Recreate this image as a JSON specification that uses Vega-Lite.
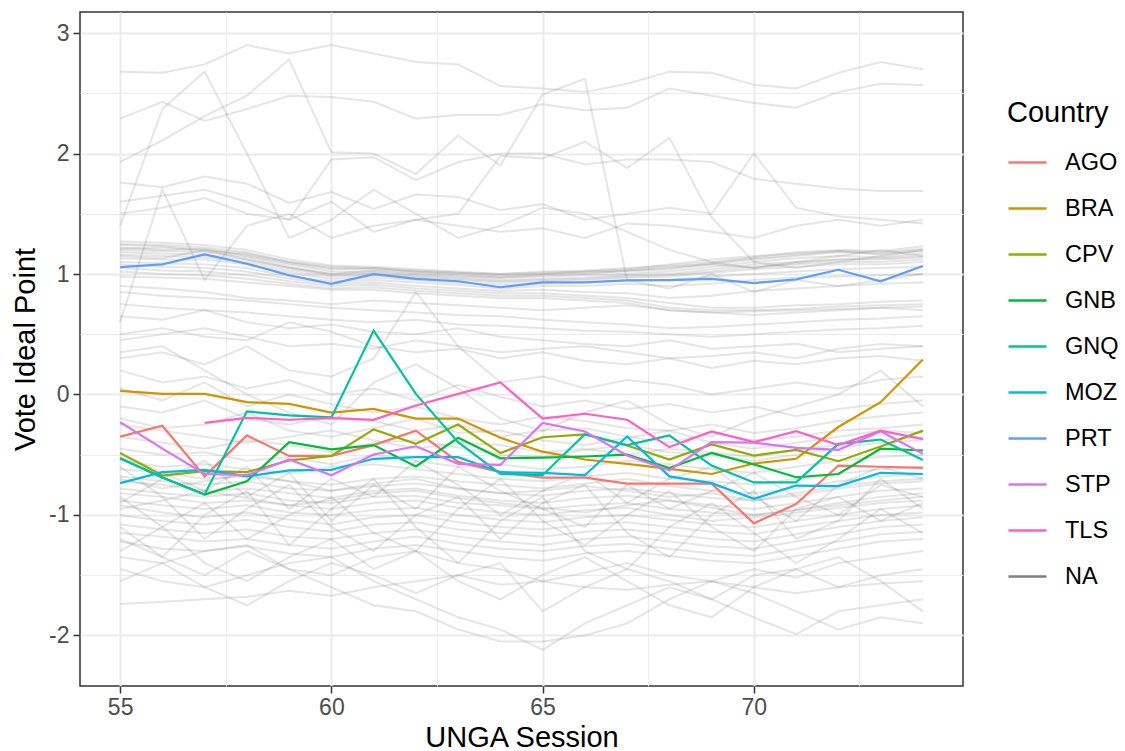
{
"$schema": "https://vega.github.io/schema/vega-lite/v6.json",
"width": 883, "height": 674,
"autosize": {"type": "none"},
"padding": {"left": 80, "top": 12, "right": 162, "bottom": 65},
"background": "white",
"config": {"font": "Liberation Sans", "view": {"stroke": "#333333", "strokeWidth": 1.5}},
"datasets": {
"bg": [
{"c":"H1","s":55,"v":2.68},{"c":"H1","s":56,"v":2.67},{"c":"H1","s":57,"v":2.74},{"c":"H1","s":58,"v":2.90},{"c":"H1","s":59,"v":2.83},{"c":"H1","s":60,"v":2.90},{"c":"H1","s":61,"v":2.83},{"c":"H1","s":62,"v":2.76},{"c":"H1","s":63,"v":2.74},{"c":"H1","s":64,"v":2.56},{"c":"H1","s":65,"v":2.54},{"c":"H1","s":66,"v":2.51},{"c":"H1","s":67,"v":2.58},{"c":"H1","s":68,"v":2.68},{"c":"H1","s":69,"v":2.67},{"c":"H1","s":70,"v":2.57},{"c":"H1","s":71,"v":2.54},{"c":"H1","s":72,"v":2.67},{"c":"H1","s":73,"v":2.76},{"c":"H1","s":74,"v":2.70},
{"c":"H2","s":55,"v":2.29},{"c":"H2","s":56,"v":2.43},{"c":"H2","s":57,"v":2.27},{"c":"H2","s":58,"v":2.37},{"c":"H2","s":59,"v":2.48},{"c":"H2","s":60,"v":2.47},{"c":"H2","s":61,"v":2.43},{"c":"H2","s":62,"v":2.29},{"c":"H2","s":63,"v":2.32},{"c":"H2","s":64,"v":2.32},{"c":"H2","s":65,"v":2.41},{"c":"H2","s":66,"v":2.36},{"c":"H2","s":67,"v":2.38},{"c":"H2","s":68,"v":2.54},{"c":"H2","s":69,"v":2.48},{"c":"H2","s":70,"v":2.42},{"c":"H2","s":71,"v":2.38},{"c":"H2","s":72,"v":2.51},{"c":"H2","s":73,"v":2.58},{"c":"H2","s":74,"v":2.57},
{"c":"H3","s":55,"v":1.93},{"c":"H3","s":56,"v":2.11},{"c":"H3","s":57,"v":2.31},{"c":"H3","s":58,"v":2.48},{"c":"H3","s":59,"v":2.78},{"c":"H3","s":60,"v":2.01},{"c":"H3","s":61,"v":2.00},{"c":"H3","s":62,"v":1.83},{"c":"H3","s":63,"v":2.15},{"c":"H3","s":64,"v":1.90},{"c":"H3","s":65,"v":2.49},{"c":"H3","s":66,"v":2.62},{"c":"H3","s":67,"v":0.95},{"c":"H3","s":68,"v":0.88},{"c":"H3","s":69,"v":1.00},{"c":"H3","s":70,"v":0.85},{"c":"H3","s":71,"v":0.95},{"c":"H3","s":72,"v":0.90},{"c":"H3","s":73,"v":0.95},{"c":"H3","s":74,"v":1.00},
{"c":"H4","s":55,"v":1.40},{"c":"H4","s":56,"v":2.37},{"c":"H4","s":57,"v":2.68},{"c":"H4","s":58,"v":2.00},{"c":"H4","s":59,"v":1.30},{"c":"H4","s":60,"v":1.45},{"c":"H4","s":61,"v":1.70},{"c":"H4","s":62,"v":1.50},{"c":"H4","s":63,"v":1.30},{"c":"H4","s":64,"v":1.40},{"c":"H4","s":65,"v":1.55},{"c":"H4","s":66,"v":1.50},{"c":"H4","s":67,"v":1.35},{"c":"H4","s":68,"v":1.20},{"c":"H4","s":69,"v":1.10},{"c":"H4","s":70,"v":1.05},{"c":"H4","s":71,"v":1.10},{"c":"H4","s":72,"v":1.15},{"c":"H4","s":73,"v":1.20},{"c":"H4","s":74,"v":1.15},
{"c":"H5","s":55,"v":1.60},{"c":"H5","s":56,"v":1.65},{"c":"H5","s":57,"v":1.70},{"c":"H5","s":58,"v":1.60},{"c":"H5","s":59,"v":1.45},{"c":"H5","s":60,"v":1.95},{"c":"H5","s":61,"v":1.97},{"c":"H5","s":62,"v":1.78},{"c":"H5","s":63,"v":1.93},{"c":"H5","s":64,"v":2.00},{"c":"H5","s":65,"v":2.00},{"c":"H5","s":66,"v":1.91},{"c":"H5","s":67,"v":1.95},{"c":"H5","s":68,"v":1.95},{"c":"H5","s":69,"v":1.93},{"c":"H5","s":70,"v":1.79},{"c":"H5","s":71,"v":1.75},{"c":"H5","s":72,"v":1.71},{"c":"H5","s":73,"v":1.69},{"c":"H5","s":74,"v":1.69},
{"c":"H6","s":55,"v":1.76},{"c":"H6","s":56,"v":1.72},{"c":"H6","s":57,"v":1.81},{"c":"H6","s":58,"v":1.75},{"c":"H6","s":59,"v":1.59},{"c":"H6","s":60,"v":1.68},{"c":"H6","s":61,"v":1.54},{"c":"H6","s":62,"v":1.66},{"c":"H6","s":63,"v":1.64},{"c":"H6","s":64,"v":1.53},{"c":"H6","s":65,"v":1.58},{"c":"H6","s":66,"v":1.45},{"c":"H6","s":67,"v":1.50},{"c":"H6","s":68,"v":1.55},{"c":"H6","s":69,"v":1.50},{"c":"H6","s":70,"v":2.00},{"c":"H6","s":71,"v":1.55},{"c":"H6","s":72,"v":1.48},{"c":"H6","s":73,"v":1.45},{"c":"H6","s":74,"v":1.42},
{"c":"H7","s":55,"v":1.50},{"c":"H7","s":56,"v":1.55},{"c":"H7","s":57,"v":1.63},{"c":"H7","s":58,"v":1.50},{"c":"H7","s":59,"v":1.45},{"c":"H7","s":60,"v":1.60},{"c":"H7","s":61,"v":1.35},{"c":"H7","s":62,"v":1.45},{"c":"H7","s":63,"v":1.50},{"c":"H7","s":64,"v":1.98},{"c":"H7","s":65,"v":1.96},{"c":"H7","s":66,"v":2.10},{"c":"H7","s":67,"v":1.88},{"c":"H7","s":68,"v":2.13},{"c":"H7","s":69,"v":1.47},{"c":"H7","s":70,"v":1.10},{"c":"H7","s":71,"v":1.05},{"c":"H7","s":72,"v":1.10},{"c":"H7","s":73,"v":1.15},{"c":"H7","s":74,"v":1.20},
{"c":"H8","s":55,"v":0.60},{"c":"H8","s":56,"v":1.70},{"c":"H8","s":57,"v":0.95},{"c":"H8","s":58,"v":1.40},{"c":"H8","s":59,"v":1.50},{"c":"H8","s":60,"v":1.30},{"c":"H8","s":61,"v":1.40},{"c":"H8","s":62,"v":1.45},{"c":"H8","s":63,"v":1.40},{"c":"H8","s":64,"v":1.35},{"c":"H8","s":65,"v":1.38},{"c":"H8","s":66,"v":1.30},{"c":"H8","s":67,"v":1.42},{"c":"H8","s":68,"v":1.40},{"c":"H8","s":69,"v":1.35},{"c":"H8","s":70,"v":1.30},{"c":"H8","s":71,"v":1.40},{"c":"H8","s":72,"v":1.45},{"c":"H8","s":73,"v":1.40},{"c":"H8","s":74,"v":1.45},
{"c":"W1","s":55,"v":1.25},{"c":"W1","s":56,"v":1.24},{"c":"W1","s":57,"v":1.22},{"c":"W1","s":58,"v":1.18},{"c":"W1","s":59,"v":1.10},{"c":"W1","s":60,"v":1.05},{"c":"W1","s":61,"v":1.04},{"c":"W1","s":62,"v":1.02},{"c":"W1","s":63,"v":1.00},{"c":"W1","s":64,"v":0.98},{"c":"W1","s":65,"v":1.00},{"c":"W1","s":66,"v":1.01},{"c":"W1","s":67,"v":1.02},{"c":"W1","s":68,"v":1.04},{"c":"W1","s":69,"v":1.08},{"c":"W1","s":70,"v":1.12},{"c":"W1","s":71,"v":1.15},{"c":"W1","s":72,"v":1.18},{"c":"W1","s":73,"v":1.17},{"c":"W1","s":74,"v":1.20},
{"c":"W2","s":55,"v":1.22},{"c":"W2","s":56,"v":1.20},{"c":"W2","s":57,"v":1.21},{"c":"W2","s":58,"v":1.15},{"c":"W2","s":59,"v":1.08},{"c":"W2","s":60,"v":1.02},{"c":"W2","s":61,"v":1.02},{"c":"W2","s":62,"v":1.00},{"c":"W2","s":63,"v":0.98},{"c":"W2","s":64,"v":0.97},{"c":"W2","s":65,"v":0.98},{"c":"W2","s":66,"v":0.99},{"c":"W2","s":67,"v":1.00},{"c":"W2","s":68,"v":1.02},{"c":"W2","s":69,"v":1.06},{"c":"W2","s":70,"v":1.10},{"c":"W2","s":71,"v":1.13},{"c":"W2","s":72,"v":1.15},{"c":"W2","s":73,"v":1.14},{"c":"W2","s":74,"v":1.17},
{"c":"W3","s":55,"v":1.20},{"c":"W3","s":56,"v":1.19},{"c":"W3","s":57,"v":1.18},{"c":"W3","s":58,"v":1.14},{"c":"W3","s":59,"v":1.06},{"c":"W3","s":60,"v":1.00},{"c":"W3","s":61,"v":1.01},{"c":"W3","s":62,"v":0.99},{"c":"W3","s":63,"v":0.97},{"c":"W3","s":64,"v":0.95},{"c":"W3","s":65,"v":0.96},{"c":"W3","s":66,"v":0.97},{"c":"W3","s":67,"v":0.99},{"c":"W3","s":68,"v":1.00},{"c":"W3","s":69,"v":1.04},{"c":"W3","s":70,"v":1.08},{"c":"W3","s":71,"v":1.10},{"c":"W3","s":72,"v":1.12},{"c":"W3","s":73,"v":1.12},{"c":"W3","s":74,"v":1.14},
{"c":"W4","s":55,"v":1.18},{"c":"W4","s":56,"v":1.17},{"c":"W4","s":57,"v":1.16},{"c":"W4","s":58,"v":1.12},{"c":"W4","s":59,"v":1.05},{"c":"W4","s":60,"v":0.99},{"c":"W4","s":61,"v":1.00},{"c":"W4","s":62,"v":0.98},{"c":"W4","s":63,"v":0.96},{"c":"W4","s":64,"v":0.94},{"c":"W4","s":65,"v":0.95},{"c":"W4","s":66,"v":0.96},{"c":"W4","s":67,"v":0.98},{"c":"W4","s":68,"v":0.99},{"c":"W4","s":69,"v":1.02},{"c":"W4","s":70,"v":1.06},{"c":"W4","s":71,"v":1.08},{"c":"W4","s":72,"v":1.10},{"c":"W4","s":73,"v":1.10},{"c":"W4","s":74,"v":1.12},
{"c":"W5","s":55,"v":1.16},{"c":"W5","s":56,"v":1.15},{"c":"W5","s":57,"v":1.14},{"c":"W5","s":58,"v":1.10},{"c":"W5","s":59,"v":1.03},{"c":"W5","s":60,"v":0.98},{"c":"W5","s":61,"v":0.99},{"c":"W5","s":62,"v":0.97},{"c":"W5","s":63,"v":0.95},{"c":"W5","s":64,"v":0.93},{"c":"W5","s":65,"v":0.94},{"c":"W5","s":66,"v":0.95},{"c":"W5","s":67,"v":0.97},{"c":"W5","s":68,"v":0.98},{"c":"W5","s":69,"v":1.01},{"c":"W5","s":70,"v":1.04},{"c":"W5","s":71,"v":1.06},{"c":"W5","s":72,"v":1.08},{"c":"W5","s":73,"v":1.08},{"c":"W5","s":74,"v":1.10},
{"c":"W6","s":55,"v":1.27},{"c":"W6","s":56,"v":1.26},{"c":"W6","s":57,"v":1.24},{"c":"W6","s":58,"v":1.20},{"c":"W6","s":59,"v":1.12},{"c":"W6","s":60,"v":1.07},{"c":"W6","s":61,"v":1.06},{"c":"W6","s":62,"v":1.04},{"c":"W6","s":63,"v":1.02},{"c":"W6","s":64,"v":1.00},{"c":"W6","s":65,"v":1.02},{"c":"W6","s":66,"v":1.03},{"c":"W6","s":67,"v":1.05},{"c":"W6","s":68,"v":1.07},{"c":"W6","s":69,"v":1.10},{"c":"W6","s":70,"v":1.14},{"c":"W6","s":71,"v":1.18},{"c":"W6","s":72,"v":1.20},{"c":"W6","s":73,"v":1.19},{"c":"W6","s":74,"v":1.23},
{"c":"W7","s":55,"v":1.13},{"c":"W7","s":56,"v":1.12},{"c":"W7","s":57,"v":1.12},{"c":"W7","s":58,"v":1.08},{"c":"W7","s":59,"v":1.01},{"c":"W7","s":60,"v":0.96},{"c":"W7","s":61,"v":0.97},{"c":"W7","s":62,"v":0.95},{"c":"W7","s":63,"v":0.93},{"c":"W7","s":64,"v":0.91},{"c":"W7","s":65,"v":0.92},{"c":"W7","s":66,"v":0.93},{"c":"W7","s":67,"v":0.95},{"c":"W7","s":68,"v":0.95},{"c":"W7","s":69,"v":0.98},{"c":"W7","s":70,"v":1.00},{"c":"W7","s":71,"v":1.02},{"c":"W7","s":72,"v":1.04},{"c":"W7","s":73,"v":1.05},{"c":"W7","s":74,"v":1.06},
{"c":"W8","s":55,"v":1.10},{"c":"W8","s":56,"v":1.09},{"c":"W8","s":57,"v":1.08},{"c":"W8","s":58,"v":1.05},{"c":"W8","s":59,"v":0.98},{"c":"W8","s":60,"v":0.94},{"c":"W8","s":61,"v":0.95},{"c":"W8","s":62,"v":0.93},{"c":"W8","s":63,"v":0.91},{"c":"W8","s":64,"v":0.88},{"c":"W8","s":65,"v":0.90},{"c":"W8","s":66,"v":0.90},{"c":"W8","s":67,"v":0.92},{"c":"W8","s":68,"v":0.90},{"c":"W8","s":69,"v":0.92},{"c":"W8","s":70,"v":0.95},{"c":"W8","s":71,"v":0.97},{"c":"W8","s":72,"v":0.98},{"c":"W8","s":73,"v":0.99},{"c":"W8","s":74,"v":1.00},
{"c":"W9","s":55,"v":1.08},{"c":"W9","s":56,"v":1.06},{"c":"W9","s":57,"v":1.05},{"c":"W9","s":58,"v":1.02},{"c":"W9","s":59,"v":0.96},{"c":"W9","s":60,"v":0.92},{"c":"W9","s":61,"v":0.93},{"c":"W9","s":62,"v":0.90},{"c":"W9","s":63,"v":0.88},{"c":"W9","s":64,"v":0.86},{"c":"W9","s":65,"v":0.87},{"c":"W9","s":66,"v":0.85},{"c":"W9","s":67,"v":0.84},{"c":"W9","s":68,"v":0.80},{"c":"W9","s":69,"v":0.82},{"c":"W9","s":70,"v":0.86},{"c":"W9","s":71,"v":0.88},{"c":"W9","s":72,"v":0.90},{"c":"W9","s":73,"v":0.92},{"c":"W9","s":74,"v":0.93},
{"c":"W10","s":55,"v":1.05},{"c":"W10","s":56,"v":1.03},{"c":"W10","s":57,"v":1.02},{"c":"W10","s":58,"v":0.99},{"c":"W10","s":59,"v":0.94},{"c":"W10","s":60,"v":0.90},{"c":"W10","s":61,"v":0.91},{"c":"W10","s":62,"v":0.88},{"c":"W10","s":63,"v":0.86},{"c":"W10","s":64,"v":0.84},{"c":"W10","s":65,"v":0.84},{"c":"W10","s":66,"v":0.82},{"c":"W10","s":67,"v":0.80},{"c":"W10","s":68,"v":0.76},{"c":"W10","s":69,"v":0.72},{"c":"W10","s":70,"v":0.72},{"c":"W10","s":71,"v":0.74},{"c":"W10","s":72,"v":0.75},{"c":"W10","s":73,"v":0.77},{"c":"W10","s":74,"v":0.78},
{"c":"W11","s":55,"v":1.02},{"c":"W11","s":56,"v":1.00},{"c":"W11","s":57,"v":0.99},{"c":"W11","s":58,"v":0.96},{"c":"W11","s":59,"v":0.92},{"c":"W11","s":60,"v":0.88},{"c":"W11","s":61,"v":0.89},{"c":"W11","s":62,"v":0.86},{"c":"W11","s":63,"v":0.84},{"c":"W11","s":64,"v":0.82},{"c":"W11","s":65,"v":0.82},{"c":"W11","s":66,"v":0.80},{"c":"W11","s":67,"v":0.78},{"c":"W11","s":68,"v":0.72},{"c":"W11","s":69,"v":0.70},{"c":"W11","s":70,"v":0.70},{"c":"W11","s":71,"v":0.71},{"c":"W11","s":72,"v":0.73},{"c":"W11","s":73,"v":0.74},{"c":"W11","s":74,"v":0.75},
{"c":"W12","s":55,"v":0.98},{"c":"W12","s":56,"v":0.97},{"c":"W12","s":57,"v":0.96},{"c":"W12","s":58,"v":0.93},{"c":"W12","s":59,"v":0.90},{"c":"W12","s":60,"v":0.87},{"c":"W12","s":61,"v":0.87},{"c":"W12","s":62,"v":0.84},{"c":"W12","s":63,"v":0.82},{"c":"W12","s":64,"v":0.80},{"c":"W12","s":65,"v":0.80},{"c":"W12","s":66,"v":0.78},{"c":"W12","s":67,"v":0.76},{"c":"W12","s":68,"v":0.70},{"c":"W12","s":69,"v":0.68},{"c":"W12","s":70,"v":0.69},{"c":"W12","s":71,"v":0.70},{"c":"W12","s":72,"v":0.71},{"c":"W12","s":73,"v":0.72},{"c":"W12","s":74,"v":0.73},
{"c":"W13","s":55,"v":1.15},{"c":"W13","s":56,"v":1.13},{"c":"W13","s":57,"v":1.20},{"c":"W13","s":58,"v":1.12},{"c":"W13","s":59,"v":1.05},{"c":"W13","s":60,"v":1.00},{"c":"W13","s":61,"v":1.03},{"c":"W13","s":62,"v":1.01},{"c":"W13","s":63,"v":0.99},{"c":"W13","s":64,"v":0.97},{"c":"W13","s":65,"v":0.99},{"c":"W13","s":66,"v":1.00},{"c":"W13","s":67,"v":1.03},{"c":"W13","s":68,"v":1.06},{"c":"W13","s":69,"v":1.08},{"c":"W13","s":70,"v":1.05},{"c":"W13","s":71,"v":1.09},{"c":"W13","s":72,"v":1.12},{"c":"W13","s":73,"v":1.13},{"c":"W13","s":74,"v":1.15},
{"c":"W14","s":55,"v":1.21},{"c":"W14","s":56,"v":1.22},{"c":"W14","s":57,"v":1.19},{"c":"W14","s":58,"v":1.16},{"c":"W14","s":59,"v":1.09},{"c":"W14","s":60,"v":1.04},{"c":"W14","s":61,"v":1.05},{"c":"W14","s":62,"v":1.03},{"c":"W14","s":63,"v":1.01},{"c":"W14","s":64,"v":1.00},{"c":"W14","s":65,"v":1.01},{"c":"W14","s":66,"v":1.02},{"c":"W14","s":67,"v":1.04},{"c":"W14","s":68,"v":1.08},{"c":"W14","s":69,"v":1.12},{"c":"W14","s":70,"v":1.15},{"c":"W14","s":71,"v":1.17},{"c":"W14","s":72,"v":1.19},{"c":"W14","s":73,"v":1.18},{"c":"W14","s":74,"v":1.21},
{"c":"N6","s":55,"v":1.24},{"c":"N6","s":56,"v":1.23},{"c":"N6","s":57,"v":1.20},{"c":"N6","s":58,"v":1.17},{"c":"N6","s":59,"v":1.10},{"c":"N6","s":60,"v":1.06},{"c":"N6","s":61,"v":1.05},{"c":"N6","s":62,"v":1.02},{"c":"N6","s":63,"v":1.01},{"c":"N6","s":64,"v":0.99},{"c":"N6","s":65,"v":1.00},{"c":"N6","s":66,"v":1.02},{"c":"N6","s":67,"v":1.03},{"c":"N6","s":68,"v":1.05},{"c":"N6","s":69,"v":1.09},{"c":"N6","s":70,"v":1.13},{"c":"N6","s":71,"v":1.16},{"c":"N6","s":72,"v":1.19},{"c":"N6","s":73,"v":1.16},{"c":"N6","s":74,"v":1.19},
{"c":"N1","s":55,"v":0.90},{"c":"N1","s":56,"v":0.88},{"c":"N1","s":57,"v":0.85},{"c":"N1","s":58,"v":0.80},{"c":"N1","s":59,"v":0.78},{"c":"N1","s":60,"v":0.75},{"c":"N1","s":61,"v":0.78},{"c":"N1","s":62,"v":0.76},{"c":"N1","s":63,"v":0.74},{"c":"N1","s":64,"v":0.72},{"c":"N1","s":65,"v":0.70},{"c":"N1","s":66,"v":0.72},{"c":"N1","s":67,"v":0.74},{"c":"N1","s":68,"v":0.70},{"c":"N1","s":69,"v":0.68},{"c":"N1","s":70,"v":0.66},{"c":"N1","s":71,"v":0.68},{"c":"N1","s":72,"v":0.70},{"c":"N1","s":73,"v":0.72},{"c":"N1","s":74,"v":0.70},
{"c":"N2","s":55,"v":0.45},{"c":"N2","s":56,"v":0.50},{"c":"N2","s":57,"v":0.55},{"c":"N2","s":58,"v":0.48},{"c":"N2","s":59,"v":0.40},{"c":"N2","s":60,"v":0.42},{"c":"N2","s":61,"v":0.38},{"c":"N2","s":62,"v":0.45},{"c":"N2","s":63,"v":0.40},{"c":"N2","s":64,"v":0.35},{"c":"N2","s":65,"v":0.38},{"c":"N2","s":66,"v":0.40},{"c":"N2","s":67,"v":0.35},{"c":"N2","s":68,"v":0.30},{"c":"N2","s":69,"v":0.32},{"c":"N2","s":70,"v":0.35},{"c":"N2","s":71,"v":0.30},{"c":"N2","s":72,"v":0.38},{"c":"N2","s":73,"v":0.42},{"c":"N2","s":74,"v":0.40},
{"c":"M1","s":55,"v":0.85},{"c":"M1","s":56,"v":0.82},{"c":"M1","s":57,"v":0.80},{"c":"M1","s":58,"v":0.78},{"c":"M1","s":59,"v":0.75},{"c":"M1","s":60,"v":0.72},{"c":"M1","s":61,"v":0.70},{"c":"M1","s":62,"v":0.68},{"c":"M1","s":63,"v":0.66},{"c":"M1","s":64,"v":0.65},{"c":"M1","s":65,"v":0.62},{"c":"M1","s":66,"v":0.60},{"c":"M1","s":67,"v":0.58},{"c":"M1","s":68,"v":0.55},{"c":"M1","s":69,"v":0.56},{"c":"M1","s":70,"v":0.58},{"c":"M1","s":71,"v":0.60},{"c":"M1","s":72,"v":0.62},{"c":"M1","s":73,"v":0.63},{"c":"M1","s":74,"v":0.65},
{"c":"M2","s":55,"v":0.75},{"c":"M2","s":56,"v":0.72},{"c":"M2","s":57,"v":0.70},{"c":"M2","s":58,"v":0.68},{"c":"M2","s":59,"v":0.65},{"c":"M2","s":60,"v":0.62},{"c":"M2","s":61,"v":0.60},{"c":"M2","s":62,"v":0.62},{"c":"M2","s":63,"v":0.58},{"c":"M2","s":64,"v":0.57},{"c":"M2","s":65,"v":0.55},{"c":"M2","s":66,"v":0.53},{"c":"M2","s":67,"v":0.52},{"c":"M2","s":68,"v":0.50},{"c":"M2","s":69,"v":0.48},{"c":"M2","s":70,"v":0.50},{"c":"M2","s":71,"v":0.52},{"c":"M2","s":72,"v":0.54},{"c":"M2","s":73,"v":0.55},{"c":"M2","s":74,"v":0.57},
{"c":"M3","s":55,"v":0.65},{"c":"M3","s":56,"v":0.62},{"c":"M3","s":57,"v":0.70},{"c":"M3","s":58,"v":0.60},{"c":"M3","s":59,"v":0.55},{"c":"M3","s":60,"v":0.58},{"c":"M3","s":61,"v":0.52},{"c":"M3","s":62,"v":0.50},{"c":"M3","s":63,"v":0.55},{"c":"M3","s":64,"v":0.48},{"c":"M3","s":65,"v":0.45},{"c":"M3","s":66,"v":0.42},{"c":"M3","s":67,"v":0.40},{"c":"M3","s":68,"v":0.45},{"c":"M3","s":69,"v":0.38},{"c":"M3","s":70,"v":0.40},{"c":"M3","s":71,"v":0.42},{"c":"M3","s":72,"v":0.35},{"c":"M3","s":73,"v":0.38},{"c":"M3","s":74,"v":0.40},
{"c":"M4","s":55,"v":0.50},{"c":"M4","s":56,"v":0.55},{"c":"M4","s":57,"v":0.48},{"c":"M4","s":58,"v":0.45},{"c":"M4","s":59,"v":0.60},{"c":"M4","s":60,"v":0.52},{"c":"M4","s":61,"v":0.40},{"c":"M4","s":62,"v":0.35},{"c":"M4","s":63,"v":0.38},{"c":"M4","s":64,"v":0.30},{"c":"M4","s":65,"v":0.35},{"c":"M4","s":66,"v":0.28},{"c":"M4","s":67,"v":0.25},{"c":"M4","s":68,"v":0.30},{"c":"M4","s":69,"v":0.22},{"c":"M4","s":70,"v":0.28},{"c":"M4","s":71,"v":0.25},{"c":"M4","s":72,"v":0.30},{"c":"M4","s":73,"v":0.32},{"c":"M4","s":74,"v":0.28},
{"c":"M5","s":55,"v":0.30},{"c":"M5","s":56,"v":0.35},{"c":"M5","s":57,"v":0.25},{"c":"M5","s":58,"v":0.40},{"c":"M5","s":59,"v":0.20},{"c":"M5","s":60,"v":0.15},{"c":"M5","s":61,"v":0.30},{"c":"M5","s":62,"v":0.85},{"c":"M5","s":63,"v":0.40},{"c":"M5","s":64,"v":0.10},{"c":"M5","s":65,"v":0.15},{"c":"M5","s":66,"v":0.05},{"c":"M5","s":67,"v":0.12},{"c":"M5","s":68,"v":0.08},{"c":"M5","s":69,"v":0.00},{"c":"M5","s":70,"v":0.05},{"c":"M5","s":71,"v":0.10},{"c":"M5","s":72,"v":0.05},{"c":"M5","s":73,"v":0.12},{"c":"M5","s":74,"v":0.15},
{"c":"M6","s":55,"v":0.20},{"c":"M6","s":56,"v":0.10},{"c":"M6","s":57,"v":0.15},{"c":"M6","s":58,"v":0.05},{"c":"M6","s":59,"v":0.12},{"c":"M6","s":60,"v":0.00},{"c":"M6","s":61,"v":0.05},{"c":"M6","s":62,"v":-0.05},{"c":"M6","s":63,"v":0.08},{"c":"M6","s":64,"v":-0.02},{"c":"M6","s":65,"v":-0.10},{"c":"M6","s":66,"v":-0.05},{"c":"M6","s":67,"v":-0.12},{"c":"M6","s":68,"v":-0.08},{"c":"M6","s":69,"v":-0.15},{"c":"M6","s":70,"v":-0.10},{"c":"M6","s":71,"v":-0.18},{"c":"M6","s":72,"v":-0.12},{"c":"M6","s":73,"v":-0.08},{"c":"M6","s":74,"v":-0.05},
{"c":"Z1","s":55,"v":0.05},{"c":"Z1","s":56,"v":-0.05},{"c":"Z1","s":57,"v":0.10},{"c":"Z1","s":58,"v":-0.10},{"c":"Z1","s":59,"v":0.00},{"c":"Z1","s":60,"v":-0.08},{"c":"Z1","s":61,"v":-0.15},{"c":"Z1","s":62,"v":-0.10},{"c":"Z1","s":63,"v":-0.20},{"c":"Z1","s":64,"v":-0.25},{"c":"Z1","s":65,"v":-0.18},{"c":"Z1","s":66,"v":-0.22},{"c":"Z1","s":67,"v":-0.28},{"c":"Z1","s":68,"v":-0.30},{"c":"Z1","s":69,"v":-0.25},{"c":"Z1","s":70,"v":-0.32},{"c":"Z1","s":71,"v":-0.28},{"c":"Z1","s":72,"v":-0.22},{"c":"Z1","s":73,"v":-0.18},{"c":"Z1","s":74,"v":-0.15},
{"c":"Z2","s":55,"v":-0.10},{"c":"Z2","s":56,"v":-0.15},{"c":"Z2","s":57,"v":-0.05},{"c":"Z2","s":58,"v":-0.20},{"c":"Z2","s":59,"v":-0.25},{"c":"Z2","s":60,"v":-0.18},{"c":"Z2","s":61,"v":-0.22},{"c":"Z2","s":62,"v":-0.30},{"c":"Z2","s":63,"v":-0.25},{"c":"Z2","s":64,"v":-0.35},{"c":"Z2","s":65,"v":-0.30},{"c":"Z2","s":66,"v":-0.28},{"c":"Z2","s":67,"v":-0.35},{"c":"Z2","s":68,"v":-0.40},{"c":"Z2","s":69,"v":-0.32},{"c":"Z2","s":70,"v":-0.38},{"c":"Z2","s":71,"v":-0.35},{"c":"Z2","s":72,"v":-0.30},{"c":"Z2","s":73,"v":-0.28},{"c":"Z2","s":74,"v":-0.25},
{"c":"Z3","s":55,"v":-0.20},{"c":"Z3","s":56,"v":-0.28},{"c":"Z3","s":57,"v":-0.25},{"c":"Z3","s":58,"v":-0.15},{"c":"Z3","s":59,"v":-0.30},{"c":"Z3","s":60,"v":-0.35},{"c":"Z3","s":61,"v":-0.28},{"c":"Z3","s":62,"v":-0.20},{"c":"Z3","s":63,"v":-0.32},{"c":"Z3","s":64,"v":-0.30},{"c":"Z3","s":65,"v":-0.38},{"c":"Z3","s":66,"v":-0.42},{"c":"Z3","s":67,"v":-0.36},{"c":"Z3","s":68,"v":-0.30},{"c":"Z3","s":69,"v":-0.40},{"c":"Z3","s":70,"v":-0.45},{"c":"Z3","s":71,"v":-0.40},{"c":"Z3","s":72,"v":-0.35},{"c":"Z3","s":73,"v":-0.30},{"c":"Z3","s":74,"v":-0.32},
{"c":"Z4","s":55,"v":0.35},{"c":"Z4","s":56,"v":0.40},{"c":"Z4","s":57,"v":0.20},{"c":"Z4","s":58,"v":0.00},{"c":"Z4","s":59,"v":-0.15},{"c":"Z4","s":60,"v":-0.25},{"c":"Z4","s":61,"v":0.10},{"c":"Z4","s":62,"v":0.25},{"c":"Z4","s":63,"v":0.05},{"c":"Z4","s":64,"v":-0.20},{"c":"Z4","s":65,"v":-0.30},{"c":"Z4","s":66,"v":-0.15},{"c":"Z4","s":67,"v":-0.05},{"c":"Z4","s":68,"v":-0.25},{"c":"Z4","s":69,"v":-0.35},{"c":"Z4","s":70,"v":-0.20},{"c":"Z4","s":71,"v":-0.10},{"c":"Z4","s":72,"v":0.00},{"c":"Z4","s":73,"v":0.20},{"c":"Z4","s":74,"v":-0.10},
{"c":"N3","s":55,"v":-0.25},{"c":"N3","s":56,"v":-0.30},{"c":"N3","s":57,"v":-0.35},{"c":"N3","s":58,"v":-0.40},{"c":"N3","s":59,"v":-0.35},{"c":"N3","s":60,"v":-0.30},{"c":"N3","s":61,"v":-0.38},{"c":"N3","s":62,"v":-0.45},{"c":"N3","s":63,"v":-0.40},{"c":"N3","s":64,"v":-0.42},{"c":"N3","s":65,"v":-0.48},{"c":"N3","s":66,"v":-0.45},{"c":"N3","s":67,"v":-0.50},{"c":"N3","s":68,"v":-0.45},{"c":"N3","s":69,"v":-0.48},{"c":"N3","s":70,"v":-0.52},{"c":"N3","s":71,"v":-0.46},{"c":"N3","s":72,"v":-0.42},{"c":"N3","s":73,"v":-0.38},{"c":"N3","s":74,"v":-0.35},
{"c":"N4","s":55,"v":-0.95},{"c":"N4","s":56,"v":-0.88},{"c":"N4","s":57,"v":-0.80},{"c":"N4","s":58,"v":-0.86},{"c":"N4","s":59,"v":-0.92},{"c":"N4","s":60,"v":-0.88},{"c":"N4","s":61,"v":-0.82},{"c":"N4","s":62,"v":-0.80},{"c":"N4","s":63,"v":-0.86},{"c":"N4","s":64,"v":-0.90},{"c":"N4","s":65,"v":-0.94},{"c":"N4","s":66,"v":-0.98},{"c":"N4","s":67,"v":-0.92},{"c":"N4","s":68,"v":-0.88},{"c":"N4","s":69,"v":-0.94},{"c":"N4","s":70,"v":-1.00},{"c":"N4","s":71,"v":-0.96},{"c":"N4","s":72,"v":-0.92},{"c":"N4","s":73,"v":-0.88},{"c":"N4","s":74,"v":-0.85},
{"c":"N5","s":55,"v":-0.70},{"c":"N5","s":56,"v":-0.78},{"c":"N5","s":57,"v":-0.72},{"c":"N5","s":58,"v":-0.66},{"c":"N5","s":59,"v":-0.72},{"c":"N5","s":60,"v":-0.80},{"c":"N5","s":61,"v":-0.74},{"c":"N5","s":62,"v":-0.70},{"c":"N5","s":63,"v":-0.78},{"c":"N5","s":64,"v":-0.82},{"c":"N5","s":65,"v":-0.80},{"c":"N5","s":66,"v":-0.76},{"c":"N5","s":67,"v":-0.80},{"c":"N5","s":68,"v":-0.85},{"c":"N5","s":69,"v":-0.82},{"c":"N5","s":70,"v":-0.88},{"c":"N5","s":71,"v":-0.82},{"c":"N5","s":72,"v":-0.76},{"c":"N5","s":73,"v":-0.72},{"c":"N5","s":74,"v":-0.70},
{"c":"L1","s":55,"v":-0.45},{"c":"L1","s":56,"v":-0.50},{"c":"L1","s":57,"v":-0.48},{"c":"L1","s":58,"v":-0.55},{"c":"L1","s":59,"v":-0.52},{"c":"L1","s":60,"v":-0.58},{"c":"L1","s":61,"v":-0.50},{"c":"L1","s":62,"v":-0.55},{"c":"L1","s":63,"v":-0.60},{"c":"L1","s":64,"v":-0.58},{"c":"L1","s":65,"v":-0.62},{"c":"L1","s":66,"v":-0.60},{"c":"L1","s":67,"v":-0.55},{"c":"L1","s":68,"v":-0.58},{"c":"L1","s":69,"v":-0.62},{"c":"L1","s":70,"v":-0.65},{"c":"L1","s":71,"v":-0.60},{"c":"L1","s":72,"v":-0.55},{"c":"L1","s":73,"v":-0.52},{"c":"L1","s":74,"v":-0.50},
{"c":"L2","s":55,"v":-0.55},{"c":"L2","s":56,"v":-0.60},{"c":"L2","s":57,"v":-0.58},{"c":"L2","s":58,"v":-0.62},{"c":"L2","s":59,"v":-0.65},{"c":"L2","s":60,"v":-0.60},{"c":"L2","s":61,"v":-0.58},{"c":"L2","s":62,"v":-0.62},{"c":"L2","s":63,"v":-0.66},{"c":"L2","s":64,"v":-0.70},{"c":"L2","s":65,"v":-0.72},{"c":"L2","s":66,"v":-0.68},{"c":"L2","s":67,"v":-0.65},{"c":"L2","s":68,"v":-0.70},{"c":"L2","s":69,"v":-0.72},{"c":"L2","s":70,"v":-0.75},{"c":"L2","s":71,"v":-0.70},{"c":"L2","s":72,"v":-0.66},{"c":"L2","s":73,"v":-0.62},{"c":"L2","s":74,"v":-0.60},
{"c":"L3","s":55,"v":-0.62},{"c":"L3","s":56,"v":-0.65},{"c":"L3","s":57,"v":-0.70},{"c":"L3","s":58,"v":-0.68},{"c":"L3","s":59,"v":-0.72},{"c":"L3","s":60,"v":-0.75},{"c":"L3","s":61,"v":-0.70},{"c":"L3","s":62,"v":-0.68},{"c":"L3","s":63,"v":-0.72},{"c":"L3","s":64,"v":-0.75},{"c":"L3","s":65,"v":-0.78},{"c":"L3","s":66,"v":-0.74},{"c":"L3","s":67,"v":-0.70},{"c":"L3","s":68,"v":-0.76},{"c":"L3","s":69,"v":-0.80},{"c":"L3","s":70,"v":-0.82},{"c":"L3","s":71,"v":-0.78},{"c":"L3","s":72,"v":-0.72},{"c":"L3","s":73,"v":-0.68},{"c":"L3","s":74,"v":-0.66},
{"c":"L4","s":55,"v":-0.68},{"c":"L4","s":56,"v":-0.72},{"c":"L4","s":57,"v":-0.75},{"c":"L4","s":58,"v":-0.72},{"c":"L4","s":59,"v":-0.78},{"c":"L4","s":60,"v":-0.80},{"c":"L4","s":61,"v":-0.76},{"c":"L4","s":62,"v":-0.74},{"c":"L4","s":63,"v":-0.78},{"c":"L4","s":64,"v":-0.82},{"c":"L4","s":65,"v":-0.84},{"c":"L4","s":66,"v":-0.80},{"c":"L4","s":67,"v":-0.78},{"c":"L4","s":68,"v":-0.82},{"c":"L4","s":69,"v":-0.86},{"c":"L4","s":70,"v":-0.88},{"c":"L4","s":71,"v":-0.84},{"c":"L4","s":72,"v":-0.78},{"c":"L4","s":73,"v":-0.74},{"c":"L4","s":74,"v":-0.72},
{"c":"L5","s":55,"v":-0.72},{"c":"L5","s":56,"v":-0.75},{"c":"L5","s":57,"v":-0.80},{"c":"L5","s":58,"v":-0.78},{"c":"L5","s":59,"v":-0.82},{"c":"L5","s":60,"v":-0.86},{"c":"L5","s":61,"v":-0.80},{"c":"L5","s":62,"v":-0.78},{"c":"L5","s":63,"v":-0.84},{"c":"L5","s":64,"v":-0.88},{"c":"L5","s":65,"v":-0.90},{"c":"L5","s":66,"v":-0.86},{"c":"L5","s":67,"v":-0.84},{"c":"L5","s":68,"v":-0.88},{"c":"L5","s":69,"v":-0.92},{"c":"L5","s":70,"v":-0.95},{"c":"L5","s":71,"v":-0.90},{"c":"L5","s":72,"v":-0.85},{"c":"L5","s":73,"v":-0.80},{"c":"L5","s":74,"v":-0.78},
{"c":"L6","s":55,"v":-0.78},{"c":"L6","s":56,"v":-0.82},{"c":"L6","s":57,"v":-0.85},{"c":"L6","s":58,"v":-0.82},{"c":"L6","s":59,"v":-0.88},{"c":"L6","s":60,"v":-0.90},{"c":"L6","s":61,"v":-0.85},{"c":"L6","s":62,"v":-0.84},{"c":"L6","s":63,"v":-0.90},{"c":"L6","s":64,"v":-0.92},{"c":"L6","s":65,"v":-0.95},{"c":"L6","s":66,"v":-0.92},{"c":"L6","s":67,"v":-0.90},{"c":"L6","s":68,"v":-0.95},{"c":"L6","s":69,"v":-0.98},{"c":"L6","s":70,"v":-1.00},{"c":"L6","s":71,"v":-0.96},{"c":"L6","s":72,"v":-0.90},{"c":"L6","s":73,"v":-0.85},{"c":"L6","s":74,"v":-0.82},
{"c":"L7","s":55,"v":-0.82},{"c":"L7","s":56,"v":-0.85},{"c":"L7","s":57,"v":-0.90},{"c":"L7","s":58,"v":-0.88},{"c":"L7","s":59,"v":-0.92},{"c":"L7","s":60,"v":-0.95},{"c":"L7","s":61,"v":-0.90},{"c":"L7","s":62,"v":-0.88},{"c":"L7","s":63,"v":-0.94},{"c":"L7","s":64,"v":-0.98},{"c":"L7","s":65,"v":-1.00},{"c":"L7","s":66,"v":-0.96},{"c":"L7","s":67,"v":-0.94},{"c":"L7","s":68,"v":-1.00},{"c":"L7","s":69,"v":-1.05},{"c":"L7","s":70,"v":-1.02},{"c":"L7","s":71,"v":-0.98},{"c":"L7","s":72,"v":-0.94},{"c":"L7","s":73,"v":-0.90},{"c":"L7","s":74,"v":-0.88},
{"c":"L8","s":55,"v":-0.88},{"c":"L8","s":56,"v":-0.92},{"c":"L8","s":57,"v":-0.95},{"c":"L8","s":58,"v":-0.92},{"c":"L8","s":59,"v":-0.98},{"c":"L8","s":60,"v":-1.00},{"c":"L8","s":61,"v":-0.96},{"c":"L8","s":62,"v":-0.94},{"c":"L8","s":63,"v":-1.00},{"c":"L8","s":64,"v":-1.04},{"c":"L8","s":65,"v":-1.06},{"c":"L8","s":66,"v":-1.02},{"c":"L8","s":67,"v":-1.00},{"c":"L8","s":68,"v":-1.04},{"c":"L8","s":69,"v":-1.08},{"c":"L8","s":70,"v":-1.10},{"c":"L8","s":71,"v":-1.05},{"c":"L8","s":72,"v":-1.00},{"c":"L8","s":73,"v":-0.95},{"c":"L8","s":74,"v":-0.92},
{"c":"L9","s":55,"v":-0.92},{"c":"L9","s":56,"v":-0.98},{"c":"L9","s":57,"v":-1.02},{"c":"L9","s":58,"v":-0.98},{"c":"L9","s":59,"v":-1.04},{"c":"L9","s":60,"v":-1.08},{"c":"L9","s":61,"v":-1.02},{"c":"L9","s":62,"v":-1.00},{"c":"L9","s":63,"v":-1.06},{"c":"L9","s":64,"v":-1.10},{"c":"L9","s":65,"v":-1.12},{"c":"L9","s":66,"v":-1.08},{"c":"L9","s":67,"v":-1.06},{"c":"L9","s":68,"v":-1.10},{"c":"L9","s":69,"v":-1.14},{"c":"L9","s":70,"v":-1.16},{"c":"L9","s":71,"v":-1.10},{"c":"L9","s":72,"v":-1.05},{"c":"L9","s":73,"v":-1.00},{"c":"L9","s":74,"v":-0.98},
{"c":"L10","s":55,"v":-1.00},{"c":"L10","s":56,"v":-1.05},{"c":"L10","s":57,"v":-1.08},{"c":"L10","s":58,"v":-1.04},{"c":"L10","s":59,"v":-1.10},{"c":"L10","s":60,"v":-1.14},{"c":"L10","s":61,"v":-1.08},{"c":"L10","s":62,"v":-1.06},{"c":"L10","s":63,"v":-1.12},{"c":"L10","s":64,"v":-1.15},{"c":"L10","s":65,"v":-1.18},{"c":"L10","s":66,"v":-1.14},{"c":"L10","s":67,"v":-1.12},{"c":"L10","s":68,"v":-1.16},{"c":"L10","s":69,"v":-1.20},{"c":"L10","s":70,"v":-1.22},{"c":"L10","s":71,"v":-1.16},{"c":"L10","s":72,"v":-1.10},{"c":"L10","s":73,"v":-1.05},{"c":"L10","s":74,"v":-1.02},
{"c":"L11","s":55,"v":-1.08},{"c":"L11","s":56,"v":-1.12},{"c":"L11","s":57,"v":-1.15},{"c":"L11","s":58,"v":-1.12},{"c":"L11","s":59,"v":-1.18},{"c":"L11","s":60,"v":-1.20},{"c":"L11","s":61,"v":-1.15},{"c":"L11","s":62,"v":-1.12},{"c":"L11","s":63,"v":-1.18},{"c":"L11","s":64,"v":-1.22},{"c":"L11","s":65,"v":-1.25},{"c":"L11","s":66,"v":-1.20},{"c":"L11","s":67,"v":-1.18},{"c":"L11","s":68,"v":-1.22},{"c":"L11","s":69,"v":-1.26},{"c":"L11","s":70,"v":-1.28},{"c":"L11","s":71,"v":-1.22},{"c":"L11","s":72,"v":-1.16},{"c":"L11","s":73,"v":-1.10},{"c":"L11","s":74,"v":-1.08},
{"c":"L12","s":55,"v":-1.15},{"c":"L12","s":56,"v":-1.18},{"c":"L12","s":57,"v":-1.22},{"c":"L12","s":58,"v":-1.20},{"c":"L12","s":59,"v":-1.25},{"c":"L12","s":60,"v":-1.28},{"c":"L12","s":61,"v":-1.22},{"c":"L12","s":62,"v":-1.18},{"c":"L12","s":63,"v":-1.24},{"c":"L12","s":64,"v":-1.28},{"c":"L12","s":65,"v":-1.30},{"c":"L12","s":66,"v":-1.26},{"c":"L12","s":67,"v":-1.24},{"c":"L12","s":68,"v":-1.28},{"c":"L12","s":69,"v":-1.32},{"c":"L12","s":70,"v":-1.34},{"c":"L12","s":71,"v":-1.28},{"c":"L12","s":72,"v":-1.22},{"c":"L12","s":73,"v":-1.16},{"c":"L12","s":74,"v":-1.14},
{"c":"L13","s":55,"v":-1.22},{"c":"L13","s":56,"v":-1.28},{"c":"L13","s":57,"v":-1.30},{"c":"L13","s":58,"v":-1.26},{"c":"L13","s":59,"v":-1.32},{"c":"L13","s":60,"v":-1.35},{"c":"L13","s":61,"v":-1.28},{"c":"L13","s":62,"v":-1.25},{"c":"L13","s":63,"v":-1.30},{"c":"L13","s":64,"v":-1.35},{"c":"L13","s":65,"v":-1.38},{"c":"L13","s":66,"v":-1.32},{"c":"L13","s":67,"v":-1.30},{"c":"L13","s":68,"v":-1.34},{"c":"L13","s":69,"v":-1.38},{"c":"L13","s":70,"v":-1.40},{"c":"L13","s":71,"v":-1.34},{"c":"L13","s":72,"v":-1.28},{"c":"L13","s":73,"v":-1.22},{"c":"L13","s":74,"v":-1.20},
{"c":"L14","s":55,"v":-0.50},{"c":"L14","s":56,"v":-0.65},{"c":"L14","s":57,"v":-0.80},{"c":"L14","s":58,"v":-0.60},{"c":"L14","s":59,"v":-0.95},{"c":"L14","s":60,"v":-0.70},{"c":"L14","s":61,"v":-0.85},{"c":"L14","s":62,"v":-0.55},{"c":"L14","s":63,"v":-0.75},{"c":"L14","s":64,"v":-1.00},{"c":"L14","s":65,"v":-0.80},{"c":"L14","s":66,"v":-0.65},{"c":"L14","s":67,"v":-0.90},{"c":"L14","s":68,"v":-0.70},{"c":"L14","s":69,"v":-0.60},{"c":"L14","s":70,"v":-0.85},{"c":"L14","s":71,"v":-1.05},{"c":"L14","s":72,"v":-0.75},{"c":"L14","s":73,"v":-0.60},{"c":"L14","s":74,"v":-0.70},
{"c":"L15","s":55,"v":-0.90},{"c":"L15","s":56,"v":-0.70},{"c":"L15","s":57,"v":-0.55},{"c":"L15","s":58,"v":-0.85},{"c":"L15","s":59,"v":-0.65},{"c":"L15","s":60,"v":-1.05},{"c":"L15","s":61,"v":-0.75},{"c":"L15","s":62,"v":-0.95},{"c":"L15","s":63,"v":-0.60},{"c":"L15","s":64,"v":-0.80},{"c":"L15","s":65,"v":-0.95},{"c":"L15","s":66,"v":-1.10},{"c":"L15","s":67,"v":-0.75},{"c":"L15","s":68,"v":-0.95},{"c":"L15","s":69,"v":-0.80},{"c":"L15","s":70,"v":-0.65},{"c":"L15","s":71,"v":-0.85},{"c":"L15","s":72,"v":-1.00},{"c":"L15","s":73,"v":-0.75},{"c":"L15","s":74,"v":-0.85},
{"c":"L16","s":55,"v":-1.30},{"c":"L16","s":56,"v":-1.10},{"c":"L16","s":57,"v":-0.90},{"c":"L16","s":58,"v":-1.20},{"c":"L16","s":59,"v":-1.00},{"c":"L16","s":60,"v":-0.85},{"c":"L16","s":61,"v":-1.15},{"c":"L16","s":62,"v":-1.30},{"c":"L16","s":63,"v":-0.95},{"c":"L16","s":64,"v":-0.70},{"c":"L16","s":65,"v":-1.05},{"c":"L16","s":66,"v":-1.25},{"c":"L16","s":67,"v":-1.00},{"c":"L16","s":68,"v":-0.80},{"c":"L16","s":69,"v":-1.10},{"c":"L16","s":70,"v":-1.30},{"c":"L16","s":71,"v":-0.95},{"c":"L16","s":72,"v":-0.85},{"c":"L16","s":73,"v":-1.05},{"c":"L16","s":74,"v":-0.90},
{"c":"L17","s":55,"v":-0.60},{"c":"L17","s":56,"v":-0.85},{"c":"L17","s":57,"v":-1.20},{"c":"L17","s":58,"v":-0.95},{"c":"L17","s":59,"v":-0.75},{"c":"L17","s":60,"v":-1.10},{"c":"L17","s":61,"v":-1.30},{"c":"L17","s":62,"v":-1.00},{"c":"L17","s":63,"v":-0.85},{"c":"L17","s":64,"v":-1.20},{"c":"L17","s":65,"v":-0.90},{"c":"L17","s":66,"v":-0.75},{"c":"L17","s":67,"v":-1.15},{"c":"L17","s":68,"v":-1.35},{"c":"L17","s":69,"v":-1.00},{"c":"L17","s":70,"v":-0.80},{"c":"L17","s":71,"v":-1.20},{"c":"L17","s":72,"v":-1.05},{"c":"L17","s":73,"v":-0.70},{"c":"L17","s":74,"v":-0.95},
{"c":"L18","s":55,"v":-1.10},{"c":"L18","s":56,"v":-1.35},{"c":"L18","s":57,"v":-1.00},{"c":"L18","s":58,"v":-0.80},{"c":"L18","s":59,"v":-1.25},{"c":"L18","s":60,"v":-0.95},{"c":"L18","s":61,"v":-0.70},{"c":"L18","s":62,"v":-1.10},{"c":"L18","s":63,"v":-1.40},{"c":"L18","s":64,"v":-1.05},{"c":"L18","s":65,"v":-0.85},{"c":"L18","s":66,"v":-1.30},{"c":"L18","s":67,"v":-1.45},{"c":"L18","s":68,"v":-1.10},{"c":"L18","s":69,"v":-0.90},{"c":"L18","s":70,"v":-1.15},{"c":"L18","s":71,"v":-1.40},{"c":"L18","s":72,"v":-1.20},{"c":"L18","s":73,"v":-0.95},{"c":"L18","s":74,"v":-1.15},
{"c":"L19","s":55,"v":-0.35},{"c":"L19","s":56,"v":-0.40},{"c":"L19","s":57,"v":-0.45},{"c":"L19","s":58,"v":-0.38},{"c":"L19","s":59,"v":-0.42},{"c":"L19","s":60,"v":-0.48},{"c":"L19","s":61,"v":-0.40},{"c":"L19","s":62,"v":-0.38},{"c":"L19","s":63,"v":-0.44},{"c":"L19","s":64,"v":-0.50},{"c":"L19","s":65,"v":-0.52},{"c":"L19","s":66,"v":-0.46},{"c":"L19","s":67,"v":-0.42},{"c":"L19","s":68,"v":-0.48},{"c":"L19","s":69,"v":-0.50},{"c":"L19","s":70,"v":-0.55},{"c":"L19","s":71,"v":-0.50},{"c":"L19","s":72,"v":-0.44},{"c":"L19","s":73,"v":-0.40},{"c":"L19","s":74,"v":-0.38},
{"c":"L20","s":55,"v":-1.35},{"c":"L20","s":56,"v":-1.40},{"c":"L20","s":57,"v":-1.30},{"c":"L20","s":58,"v":-1.25},{"c":"L20","s":59,"v":-1.45},{"c":"L20","s":60,"v":-1.50},{"c":"L20","s":61,"v":-1.35},{"c":"L20","s":62,"v":-1.30},{"c":"L20","s":63,"v":-1.40},{"c":"L20","s":64,"v":-1.45},{"c":"L20","s":65,"v":-1.55},{"c":"L20","s":66,"v":-1.48},{"c":"L20","s":67,"v":-1.40},{"c":"L20","s":68,"v":-1.50},{"c":"L20","s":69,"v":-1.55},{"c":"L20","s":70,"v":-1.45},{"c":"L20","s":71,"v":-1.52},{"c":"L20","s":72,"v":-1.40},{"c":"L20","s":73,"v":-1.35},{"c":"L20","s":74,"v":-1.30},
{"c":"O1","s":55,"v":-1.74},{"c":"O1","s":56,"v":-1.72},{"c":"O1","s":57,"v":-1.70},{"c":"O1","s":58,"v":-1.68},{"c":"O1","s":59,"v":-1.63},{"c":"O1","s":60,"v":-1.67},{"c":"O1","s":61,"v":-1.60},{"c":"O1","s":62,"v":-1.55},{"c":"O1","s":63,"v":-1.50},{"c":"O1","s":64,"v":-1.58},{"c":"O1","s":65,"v":-1.55},{"c":"O1","s":66,"v":-1.60},{"c":"O1","s":67,"v":-1.62},{"c":"O1","s":68,"v":-1.58},{"c":"O1","s":69,"v":-1.55},{"c":"O1","s":70,"v":-1.60},{"c":"O1","s":71,"v":-1.65},{"c":"O1","s":72,"v":-1.60},{"c":"O1","s":73,"v":-1.57},{"c":"O1","s":74,"v":-1.55},
{"c":"O2","s":55,"v":-1.45},{"c":"O2","s":56,"v":-1.55},{"c":"O2","s":57,"v":-1.60},{"c":"O2","s":58,"v":-1.50},{"c":"O2","s":59,"v":-1.40},{"c":"O2","s":60,"v":-1.35},{"c":"O2","s":61,"v":-1.55},{"c":"O2","s":62,"v":-1.70},{"c":"O2","s":63,"v":-1.85},{"c":"O2","s":64,"v":-1.95},{"c":"O2","s":65,"v":-2.12},{"c":"O2","s":66,"v":-1.90},{"c":"O2","s":67,"v":-1.75},{"c":"O2","s":68,"v":-1.60},{"c":"O2","s":69,"v":-1.70},{"c":"O2","s":70,"v":-1.85},{"c":"O2","s":71,"v":-1.99},{"c":"O2","s":72,"v":-1.80},{"c":"O2","s":73,"v":-1.75},{"c":"O2","s":74,"v":-1.70},
{"c":"O3","s":55,"v":-1.20},{"c":"O3","s":56,"v":-1.35},{"c":"O3","s":57,"v":-1.50},{"c":"O3","s":58,"v":-1.30},{"c":"O3","s":59,"v":-1.45},{"c":"O3","s":60,"v":-1.60},{"c":"O3","s":61,"v":-1.75},{"c":"O3","s":62,"v":-1.80},{"c":"O3","s":63,"v":-1.95},{"c":"O3","s":64,"v":-2.05},{"c":"O3","s":65,"v":-2.05},{"c":"O3","s":66,"v":-2.00},{"c":"O3","s":67,"v":-1.90},{"c":"O3","s":68,"v":-1.70},{"c":"O3","s":69,"v":-1.55},{"c":"O3","s":70,"v":-1.65},{"c":"O3","s":71,"v":-1.80},{"c":"O3","s":72,"v":-1.95},{"c":"O3","s":73,"v":-1.85},{"c":"O3","s":74,"v":-1.90},
{"c":"O4","s":55,"v":-1.55},{"c":"O4","s":56,"v":-1.40},{"c":"O4","s":57,"v":-1.60},{"c":"O4","s":58,"v":-1.75},{"c":"O4","s":59,"v":-1.55},{"c":"O4","s":60,"v":-1.40},{"c":"O4","s":61,"v":-1.50},{"c":"O4","s":62,"v":-1.65},{"c":"O4","s":63,"v":-1.50},{"c":"O4","s":64,"v":-1.40},{"c":"O4","s":65,"v":-1.80},{"c":"O4","s":66,"v":-1.60},{"c":"O4","s":67,"v":-1.45},{"c":"O4","s":68,"v":-1.55},{"c":"O4","s":69,"v":-1.70},{"c":"O4","s":70,"v":-1.50},{"c":"O4","s":71,"v":-1.45},{"c":"O4","s":72,"v":-1.60},{"c":"O4","s":73,"v":-1.50},{"c":"O4","s":74,"v":-1.45},
{"c":"O5","s":55,"v":-0.85},{"c":"O5","s":56,"v":-1.10},{"c":"O5","s":57,"v":-1.40},{"c":"O5","s":58,"v":-1.55},{"c":"O5","s":59,"v":-1.35},{"c":"O5","s":60,"v":-1.20},{"c":"O5","s":61,"v":-1.45},{"c":"O5","s":62,"v":-1.30},{"c":"O5","s":63,"v":-1.55},{"c":"O5","s":64,"v":-1.70},{"c":"O5","s":65,"v":-1.50},{"c":"O5","s":66,"v":-1.35},{"c":"O5","s":67,"v":-1.55},{"c":"O5","s":68,"v":-1.75},{"c":"O5","s":69,"v":-1.85},{"c":"O5","s":70,"v":-1.60},{"c":"O5","s":71,"v":-1.45},{"c":"O5","s":72,"v":-1.35},{"c":"O5","s":73,"v":-1.55},{"c":"O5","s":74,"v":-1.80}
],
"fg": [
{"c":"AGO","s":55,"v":-0.35},{"c":"AGO","s":56,"v":-0.26},{"c":"AGO","s":57,"v":-0.68},{"c":"AGO","s":58,"v":-0.34},{"c":"AGO","s":59,"v":-0.51},{"c":"AGO","s":60,"v":-0.51},{"c":"AGO","s":61,"v":-0.42},{"c":"AGO","s":62,"v":-0.30},{"c":"AGO","s":63,"v":-0.56},{"c":"AGO","s":64,"v":-0.645},{"c":"AGO","s":65,"v":-0.69},{"c":"AGO","s":66,"v":-0.69},{"c":"AGO","s":67,"v":-0.74},{"c":"AGO","s":68,"v":-0.74},{"c":"AGO","s":69,"v":-0.74},{"c":"AGO","s":70,"v":-1.07},{"c":"AGO","s":71,"v":-0.91},{"c":"AGO","s":72,"v":-0.59},{"c":"AGO","s":73,"v":-0.60},{"c":"AGO","s":74,"v":-0.61},
{"c":"BRA","s":55,"v":0.03},{"c":"BRA","s":56,"v":0.005},{"c":"BRA","s":57,"v":0.005},{"c":"BRA","s":58,"v":-0.064},{"c":"BRA","s":59,"v":-0.078},{"c":"BRA","s":60,"v":-0.15},{"c":"BRA","s":61,"v":-0.12},{"c":"BRA","s":62,"v":-0.20},{"c":"BRA","s":63,"v":-0.20},{"c":"BRA","s":64,"v":-0.36},{"c":"BRA","s":65,"v":-0.475},{"c":"BRA","s":66,"v":-0.54},{"c":"BRA","s":67,"v":-0.576},{"c":"BRA","s":68,"v":-0.617},{"c":"BRA","s":69,"v":-0.66},{"c":"BRA","s":70,"v":-0.573},{"c":"BRA","s":71,"v":-0.534},{"c":"BRA","s":72,"v":-0.27},{"c":"BRA","s":73,"v":-0.064},{"c":"BRA","s":74,"v":0.29},
{"c":"CPV","s":55,"v":-0.485},{"c":"CPV","s":56,"v":-0.673},{"c":"CPV","s":57,"v":-0.637},{"c":"CPV","s":58,"v":-0.645},{"c":"CPV","s":59,"v":-0.548},{"c":"CPV","s":60,"v":-0.51},{"c":"CPV","s":61,"v":-0.29},{"c":"CPV","s":62,"v":-0.41},{"c":"CPV","s":63,"v":-0.25},{"c":"CPV","s":64,"v":-0.487},{"c":"CPV","s":65,"v":-0.355},{"c":"CPV","s":66,"v":-0.332},{"c":"CPV","s":67,"v":-0.424},{"c":"CPV","s":68,"v":-0.54},{"c":"CPV","s":69,"v":-0.415},{"c":"CPV","s":70,"v":-0.507},{"c":"CPV","s":71,"v":-0.46},{"c":"CPV","s":72,"v":-0.554},{"c":"CPV","s":73,"v":-0.432},{"c":"CPV","s":74,"v":-0.30},
{"c":"GNB","s":55,"v":-0.53},{"c":"GNB","s":56,"v":-0.69},{"c":"GNB","s":57,"v":-0.83},{"c":"GNB","s":58,"v":-0.72},{"c":"GNB","s":59,"v":-0.396},{"c":"GNB","s":60,"v":-0.455},{"c":"GNB","s":61,"v":-0.42},{"c":"GNB","s":62,"v":-0.598},{"c":"GNB","s":63,"v":-0.36},{"c":"GNB","s":64,"v":-0.53},{"c":"GNB","s":65,"v":-0.525},{"c":"GNB","s":66,"v":-0.515},{"c":"GNB","s":67,"v":-0.50},{"c":"GNB","s":68,"v":-0.61},{"c":"GNB","s":69,"v":-0.485},{"c":"GNB","s":70,"v":-0.58},{"c":"GNB","s":71,"v":-0.687},{"c":"GNB","s":72,"v":-0.66},{"c":"GNB","s":73,"v":-0.45},{"c":"GNB","s":74,"v":-0.465},
{"c":"GNQ","s":55,"v":-0.53},{"c":"GNQ","s":56,"v":-0.69},{"c":"GNQ","s":57,"v":-0.83},{"c":"GNQ","s":58,"v":-0.14},{"c":"GNQ","s":59,"v":-0.174},{"c":"GNQ","s":60,"v":-0.19},{"c":"GNQ","s":61,"v":0.53},{"c":"GNQ","s":62,"v":0.005},{"c":"GNQ","s":63,"v":-0.396},{"c":"GNQ","s":64,"v":-0.66},{"c":"GNQ","s":65,"v":-0.67},{"c":"GNQ","s":66,"v":-0.33},{"c":"GNQ","s":67,"v":-0.42},{"c":"GNQ","s":68,"v":-0.34},{"c":"GNQ","s":69,"v":-0.59},{"c":"GNQ","s":70,"v":-0.73},{"c":"GNQ","s":71,"v":-0.73},{"c":"GNQ","s":72,"v":-0.41},{"c":"GNQ","s":73,"v":-0.374},{"c":"GNQ","s":74,"v":-0.543},
{"c":"MOZ","s":55,"v":-0.736},{"c":"MOZ","s":56,"v":-0.645},{"c":"MOZ","s":57,"v":-0.626},{"c":"MOZ","s":58,"v":-0.68},{"c":"MOZ","s":59,"v":-0.63},{"c":"MOZ","s":60,"v":-0.626},{"c":"MOZ","s":61,"v":-0.534},{"c":"MOZ","s":62,"v":-0.52},{"c":"MOZ","s":63,"v":-0.52},{"c":"MOZ","s":64,"v":-0.645},{"c":"MOZ","s":65,"v":-0.65},{"c":"MOZ","s":66,"v":-0.67},{"c":"MOZ","s":67,"v":-0.349},{"c":"MOZ","s":68,"v":-0.68},{"c":"MOZ","s":69,"v":-0.736},{"c":"MOZ","s":70,"v":-0.866},{"c":"MOZ","s":71,"v":-0.756},{"c":"MOZ","s":72,"v":-0.76},{"c":"MOZ","s":73,"v":-0.65},{"c":"MOZ","s":74,"v":-0.66},
{"c":"PRT","s":55,"v":1.057},{"c":"PRT","s":56,"v":1.08},{"c":"PRT","s":57,"v":1.163},{"c":"PRT","s":58,"v":1.085},{"c":"PRT","s":59,"v":0.99},{"c":"PRT","s":60,"v":0.919},{"c":"PRT","s":61,"v":0.999},{"c":"PRT","s":62,"v":0.96},{"c":"PRT","s":63,"v":0.94},{"c":"PRT","s":64,"v":0.89},{"c":"PRT","s":65,"v":0.93},{"c":"PRT","s":66,"v":0.93},{"c":"PRT","s":67,"v":0.947},{"c":"PRT","s":68,"v":0.95},{"c":"PRT","s":69,"v":0.96},{"c":"PRT","s":70,"v":0.925},{"c":"PRT","s":71,"v":0.955},{"c":"PRT","s":72,"v":1.035},{"c":"PRT","s":73,"v":0.94},{"c":"PRT","s":74,"v":1.066},
{"c":"STP","s":55,"v":-0.23},{"c":"STP","s":56,"v":-0.45},{"c":"STP","s":57,"v":-0.66},{"c":"STP","s":58,"v":-0.67},{"c":"STP","s":59,"v":-0.54},{"c":"STP","s":60,"v":-0.67},{"c":"STP","s":61,"v":-0.498},{"c":"STP","s":62,"v":-0.43},{"c":"STP","s":63,"v":-0.576},{"c":"STP","s":64,"v":-0.584},{"c":"STP","s":65,"v":-0.236},{"c":"STP","s":66,"v":-0.307},{"c":"STP","s":67,"v":-0.507},{"c":"STP","s":68,"v":-0.63},{"c":"STP","s":69,"v":-0.396},{"c":"STP","s":70,"v":-0.40},{"c":"STP","s":71,"v":-0.443},{"c":"STP","s":72,"v":-0.46},{"c":"STP","s":73,"v":-0.305},{"c":"STP","s":74,"v":-0.493},
{"c":"TLS","s":57,"v":-0.235},{"c":"TLS","s":58,"v":-0.194},{"c":"TLS","s":59,"v":-0.21},{"c":"TLS","s":60,"v":-0.197},{"c":"TLS","s":61,"v":-0.21},{"c":"TLS","s":62,"v":-0.091},{"c":"TLS","s":63,"v":0.005},{"c":"TLS","s":64,"v":0.10},{"c":"TLS","s":65,"v":-0.20},{"c":"TLS","s":66,"v":-0.16},{"c":"TLS","s":67,"v":-0.21},{"c":"TLS","s":68,"v":-0.437},{"c":"TLS","s":69,"v":-0.307},{"c":"TLS","s":70,"v":-0.396},{"c":"TLS","s":71,"v":-0.305},{"c":"TLS","s":72,"v":-0.42},{"c":"TLS","s":73,"v":-0.30},{"c":"TLS","s":74,"v":-0.37}
]
},
"layer": [
{
"data": {"name": "bg"},
"mark": {"type": "line", "stroke": "#7f7f7f", "strokeOpacity": 0.2, "strokeWidth": 2, "clip": true},
"encoding": {
"x": {"field": "s", "type": "quantitative", "scale": {"domain": [54.05, 74.95], "nice": false, "zero": false},
"axis": {"title": "UNGA Session", "values": [55, 57.5, 60, 62.5, 65, 67.5, 70, 72.5],
"labelExpr": "datum.value % 5 === 0 ? toString(datum.value) : ''",
"domain": false, "grid": true, "gridColor": "#ebebeb",
"gridWidth": {"condition": {"test": "datum.value % 5 === 0", "value": 2}, "value": 1},
"tickOpacity": {"condition": {"test": "datum.value % 5 === 0", "value": 1}, "value": 0},
"tickColor": "#333333", "tickSize": 7, "tickWidth": 1.5,
"labelFontSize": 23, "labelColor": "#4d4d4d", "labelPadding": 3, "labelFont": "Liberation Sans",
"titleFontSize": 29, "titleFontWeight": "normal", "titleColor": "#000000", "titlePadding": 4, "titleFont": "Liberation Sans"}},
"y": {"field": "v", "type": "quantitative", "scale": {"domain": [-2.42, 3.175], "nice": false, "zero": false},
"axis": {"title": "Vote Ideal Point", "values": [-2, -1.5, -1, -0.5, 0, 0.5, 1, 1.5, 2, 2.5, 3],
"labelExpr": "datum.value % 1 === 0 ? toString(datum.value) : ''",
"domain": false, "grid": true, "gridColor": "#ebebeb",
"gridWidth": {"condition": {"test": "datum.value % 1 === 0", "value": 2}, "value": 1},
"tickOpacity": {"condition": {"test": "datum.value % 1 === 0", "value": 1}, "value": 0},
"tickColor": "#333333", "tickSize": 7, "tickWidth": 1.5,
"labelFontSize": 23, "labelColor": "#4d4d4d", "labelPadding": 4, "labelFont": "Liberation Sans",
"titleFontSize": 29, "titleFontWeight": "normal", "titleColor": "#000000", "titlePadding": 8, "titleFont": "Liberation Sans"}},
"detail": {"field": "c", "type": "nominal"}
}
},
{
"data": {"name": "fg"},
"mark": {"type": "line", "strokeWidth": 2.2, "clip": true},
"encoding": {
"x": {"field": "s", "type": "quantitative"},
"y": {"field": "v", "type": "quantitative"},
"color": {"field": "c", "type": "nominal", "title": "Country",
"scale": {"domain": ["AGO", "BRA", "CPV", "GNB", "GNQ", "MOZ", "PRT", "STP", "TLS", "NA"],
"range": ["#F8766D", "#D39200", "#93AA00", "#00BA38", "#00C19F", "#00B9E3", "#619CFF", "#DB72FB", "#FF61C3", "#7f7f7f"]},
"legend": {"orient": "none", "legendX": 927, "legendY": 87, "symbolType": "stroke", "symbolSize": 1444, "symbolStrokeWidth": 2.5,
"titleFontSize": 29, "titleFontWeight": "normal", "titleColor": "#000000", "titleFont": "Liberation Sans", "titlePadding": 14,
"labelFontSize": 23.5, "labelColor": "#000000", "labelFont": "Liberation Sans", "labelOffset": 17, "rowPadding": 14}}
}
}
]
}
